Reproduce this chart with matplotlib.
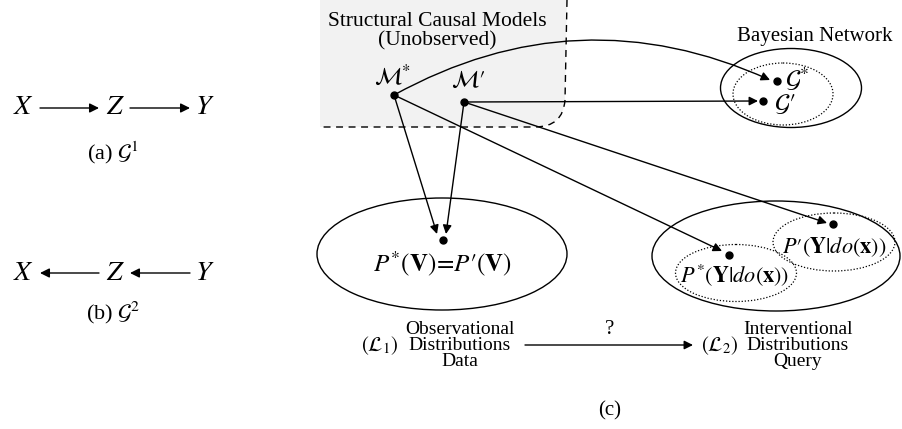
import matplotlib
matplotlib.use("Agg")
import matplotlib.pyplot as plt
from matplotlib.patches import Ellipse, PathPatch
from matplotlib.path import Path

plt.rcParams["font.family"] = ["Liberation Serif", "DejaVu Serif"]
plt.rcParams["mathtext.fontset"] = "stix"

# left graphs: node names and panel captions
chain_nodes = ["$X$", "$Z$", "$Y$"]
panel_labels = [r"(a) $\mathcal{G}^1$", r"(b) $\mathcal{G}^2$"]
panel_dirs = [1, -1]          # 1 = arrows point right, -1 = point left

# right diagram texts
scm_title = ["Structural Causal Models", "(Unobserved)"]
models = [r"$\mathcal{M}^{*}$", r"$\mathcal{M}′$"]
graphs = [r"$\mathcal{G}^{*}$", r"$\mathcal{G}′$"]
obs_text = r"$P^{*}(\mathbf{V})\!=\!P′(\mathbf{V})$"
int_texts = [r"$P^{*}(\mathbf{Y}|do(\mathbf{x}))$", r"$P′(\mathbf{Y}|do(\mathbf{x}))$"]
obs_label = ["Observational", "Distributions", "Data"]
int_label = ["Interventional", "Distributions", "Query"]
layers = [r"$(\mathcal{L}_1)$", r"$(\mathcal{L}_2)$"]

W, H = 902, 429
fig = plt.figure(figsize=(W / 100, H / 100), dpi=100)
ax = fig.add_axes([0, 0, 1, 1])
ax.set_xlim(0, W)
ax.set_ylim(H, 0)
ax.axis("off")


def arrow(p0, p1, rad=0.0, ms=13):
    ax.annotate("", xy=p1, xytext=p0,
                arrowprops=dict(arrowstyle="-|>", color="k", lw=1.0,
                                mutation_scale=ms, shrinkA=0, shrinkB=0,
                                connectionstyle="arc3,rad=%s" % rad))


def dot(x, y):
    ax.plot(x, y, "o", color="k", ms=5, zorder=5)


# ---- (a) and (b) ----
node_x = [23, 115, 205]
row_y = [108, 273]
cap_y = [153, 313]
for row, lab, d, cy in zip(row_y, panel_labels, panel_dirs, cap_y):
    for x, name in zip(node_x, chain_nodes):
        ax.text(x, row, name, ha="center", va="center", fontsize=20)
    for a, b in [(40, 99), (130, 190)]:
        if d > 0:
            arrow((a, row), (b, row), ms=14)
        else:
            arrow((b, row), (a, row), ms=14)
    ax.text(113, cy, lab, ha="center", va="center", fontsize=16)

# ---- SCM shaded region ----
verts = [(320, 0), (567, 0), (565, 100), (563, 127), (535, 127), (320, 127), (320, 0)]
codes = [Path.MOVETO, Path.LINETO, Path.LINETO, Path.CURVE3, Path.CURVE3,
         Path.LINETO, Path.CLOSEPOLY]
ax.add_patch(PathPatch(Path(verts, codes), facecolor="#f2f2f2", edgecolor="none", zorder=0))
edge = Path(verts[1:6], [Path.MOVETO, Path.LINETO, Path.CURVE3, Path.CURVE3, Path.LINETO])
ax.add_patch(PathPatch(edge, facecolor="none", edgecolor="k", lw=1.0,
                       linestyle=(0, (5, 4)), zorder=1))

ax.text(437, 21, scm_title[0], ha="center", va="center", fontsize=15.5)
ax.text(437, 41, scm_title[1], ha="center", va="center", fontsize=15.5)

m_pos = [(394, 95), (464, 102)]
m_lab = [(393, 76), (468, 81)]
for (x, y), (lx, ly), t in zip(m_pos, m_lab, models):
    dot(x, y)
    ax.text(lx, ly, t, ha="center", va="center", fontsize=17)

# ---- Bayesian network ----
ax.text(815, 37, "Bayesian Network", ha="center", va="center", fontsize=15)
ax.add_patch(Ellipse((791, 88), 141, 79, fill=False, lw=1.0))
ax.add_patch(Ellipse((783, 94), 100, 62, fill=False, lw=0.9, linestyle=(0, (1, 1.5))))
g_pos = [(777, 81), (763, 101)]
g_lab = [(797, 79), (785, 104)]
for (x, y), (lx, ly), t in zip(g_pos, g_lab, graphs):
    dot(x, y)
    ax.text(lx, ly, t, ha="center", va="center", fontsize=18)

arrow(m_pos[0], (770, 80), rad=-0.25)
arrow(m_pos[1], (758, 101))

# ---- observational ellipse ----
ax.add_patch(Ellipse((442, 254), 250, 112, fill=False, lw=1.0))
dot(443, 240)
ax.text(442, 264, obs_text, ha="center", va="center", fontsize=18)
arrow(m_pos[0], (437, 234))
arrow(m_pos[1], (446, 234))

# ---- interventional ellipse ----
ax.add_patch(Ellipse((776, 256), 248, 110, fill=False, lw=1.0))
ax.add_patch(Ellipse((736, 273), 121, 57, fill=False, lw=0.9, linestyle=(0, (1, 1.5))))
ax.add_patch(Ellipse((834, 242), 122, 58, fill=False, lw=0.9, linestyle=(0, (1, 1.5))))
dot(729, 255)
dot(833, 224)
ax.text(735, 275, int_texts[0], ha="center", va="center", fontsize=16)
ax.text(834, 247, int_texts[1], ha="center", va="center", fontsize=16)
arrow(m_pos[0], (722, 251))
arrow(m_pos[1], (827, 223))

# ---- bottom labels ----
for i, line in enumerate(obs_label):
    ax.text(460, 329 + 16.5 * i, line, ha="center", va="center", fontsize=14)
for i, line in enumerate(int_label):
    ax.text(798, 329 + 16.5 * i, line, ha="center", va="center", fontsize=14)
ax.text(380, 346, layers[0], ha="center", va="center", fontsize=15)
ax.text(720, 346, layers[1], ha="center", va="center", fontsize=15)
arrow((525, 345), (693, 345))
ax.text(610, 329, "?", ha="center", va="center", fontsize=15)

ax.text(610, 411, "(c)", ha="center", va="center", fontsize=15)

fig.savefig("out.png", dpi=100)
